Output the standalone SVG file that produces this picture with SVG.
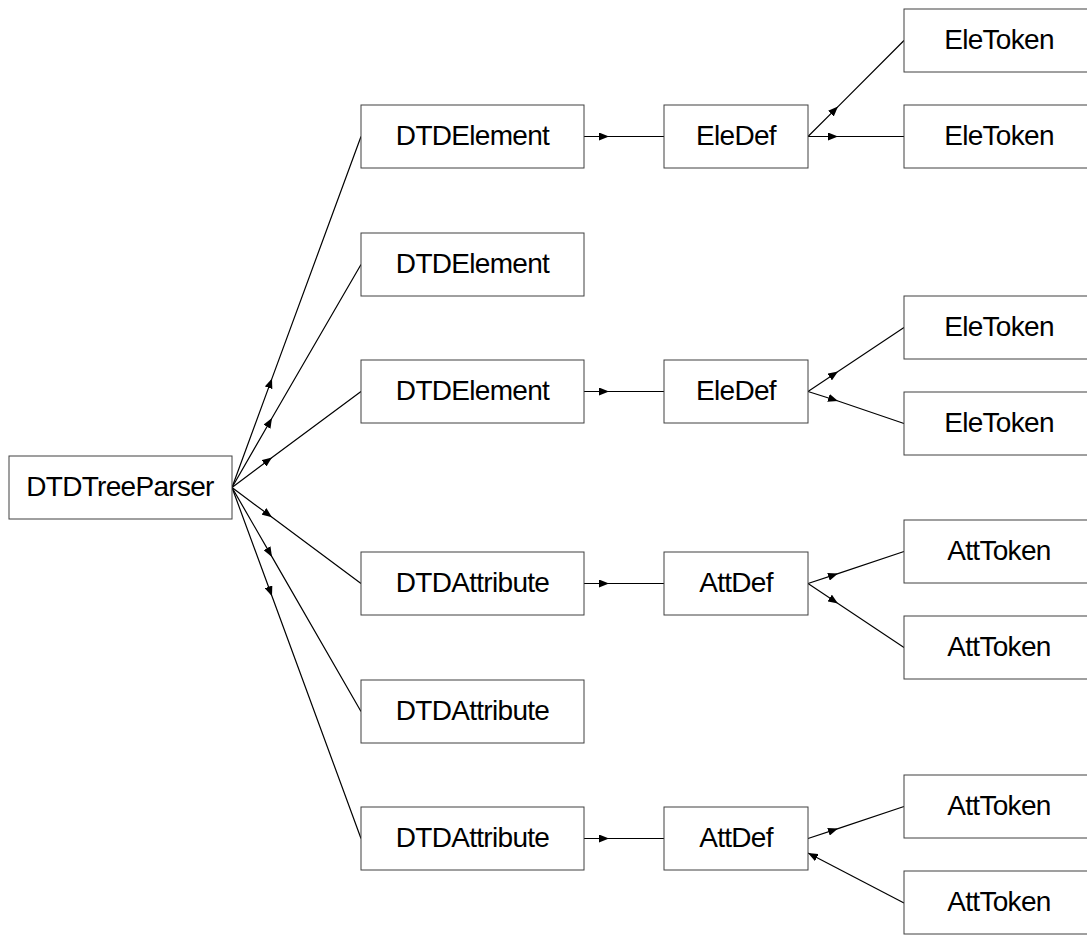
<svg xmlns="http://www.w3.org/2000/svg" width="1087" height="935" viewBox="0 0 1087 935">
  <style>
    .box rect { fill: #ffffff; stroke: #404040; stroke-width: 1; }
    .box text { font-family: "Liberation Sans", Arial, Helvetica, sans-serif; font-size: 28px; letter-spacing: -0.7px; fill: #000000; text-anchor: middle; }
    .edge { fill: none; stroke: #000000; stroke-width: 1.2; }
    .fwd { marker-mid: url(#arrow); }
    .back { marker-end: url(#arrow); }
  </style>
  <defs>
    <marker id="arrow" viewBox="0 0 10 8" refX="10" refY="4" markerWidth="10" markerHeight="8" markerUnits="userSpaceOnUse" orient="auto">
      <path d="M0,0 L10,4 L0,8 z" fill="#000000"/>
    </marker>
  </defs>
  <rect width="1087" height="935" fill="#ffffff"/>

  <!-- connectors: arrowhead placed about 31% along each line -->
  <g id="connectors">
    <path class="edge fwd" d="M232,487.5 L272,378.4 L361,136.5"/>
    <path class="edge fwd" d="M232,487.5 L272,418.0 L361,264.5"/>
    <path class="edge fwd" d="M232,487.5 L272,457.4 L361,391.5"/>
    <path class="edge fwd" d="M232,487.5 L272,517.3 L361,583.5"/>
    <path class="edge fwd" d="M232,487.5 L272,556.9 L361,711.5"/>
    <path class="edge fwd" d="M232,487.5 L272,596.2 L361,838.5"/>

    <path class="edge fwd" d="M584,136.5 L609,136.5 L664,136.5"/>
    <path class="edge fwd" d="M584,391.5 L609,391.5 L664,391.5"/>
    <path class="edge fwd" d="M584,583.5 L609,583.5 L664,583.5"/>
    <path class="edge fwd" d="M584,838.5 L609,838.5 L664,838.5"/>

    <path class="edge fwd" d="M808,136.5 L838,106.6 L904,40.5"/>
    <path class="edge fwd" d="M808,136.5 L838,136.5 L904,136.5"/>
    <path class="edge fwd" d="M808,391.5 L838,371.5 L904,327.5"/>
    <path class="edge fwd" d="M808,391.5 L838,401.0 L904,423.5"/>
    <path class="edge fwd" d="M808,583.5 L838,573.6 L904,551.5"/>
    <path class="edge fwd" d="M808,583.5 L838,603.5 L904,647.5"/>
    <path class="edge fwd" d="M808,838.5 L838,828.6 L904,806.5"/>
    <path class="edge back" d="M904,903 L808,853"/>
  </g>

  <g id="n-parser" class="box"><rect x="9" y="456" width="223" height="63"/><text x="120" y="496">DTDTreeParser</text></g>

  <g id="n-elem1" class="box"><rect x="361" y="105" width="223" height="63"/><text x="472.5" y="145">DTDElement</text></g>
  <g id="n-elem2" class="box"><rect x="361" y="233" width="223" height="63"/><text x="472.5" y="273">DTDElement</text></g>
  <g id="n-elem3" class="box"><rect x="361" y="360" width="223" height="63"/><text x="472.5" y="400">DTDElement</text></g>
  <g id="n-attr1" class="box"><rect x="361" y="552" width="223" height="63"/><text x="472.5" y="592">DTDAttribute</text></g>
  <g id="n-attr2" class="box"><rect x="361" y="680" width="223" height="63"/><text x="472.5" y="720">DTDAttribute</text></g>
  <g id="n-attr3" class="box"><rect x="361" y="807" width="223" height="63"/><text x="472.5" y="847">DTDAttribute</text></g>

  <g id="n-eledef1" class="box"><rect x="664" y="105" width="144" height="63"/><text x="736" y="145">EleDef</text></g>
  <g id="n-eledef2" class="box"><rect x="664" y="360" width="144" height="63"/><text x="736" y="400">EleDef</text></g>
  <g id="n-attdef1" class="box"><rect x="664" y="552" width="144" height="63"/><text x="736" y="592">AttDef</text></g>
  <g id="n-attdef2" class="box"><rect x="664" y="807" width="144" height="63"/><text x="736" y="847">AttDef</text></g>

  <g id="n-eletok1" class="box"><rect x="904" y="9" width="190" height="63"/><text x="999" y="49">EleToken</text></g>
  <g id="n-eletok2" class="box"><rect x="904" y="105" width="190" height="63"/><text x="999" y="145">EleToken</text></g>
  <g id="n-eletok3" class="box"><rect x="904" y="296" width="190" height="63"/><text x="999" y="336">EleToken</text></g>
  <g id="n-eletok4" class="box"><rect x="904" y="392" width="190" height="63"/><text x="999" y="432">EleToken</text></g>
  <g id="n-atttok1" class="box"><rect x="904" y="520" width="190" height="63"/><text x="999" y="560">AttToken</text></g>
  <g id="n-atttok2" class="box"><rect x="904" y="616" width="190" height="63"/><text x="999" y="656">AttToken</text></g>
  <g id="n-atttok3" class="box"><rect x="904" y="775" width="190" height="63"/><text x="999" y="815">AttToken</text></g>
  <g id="n-atttok4" class="box"><rect x="904" y="871" width="190" height="63"/><text x="999" y="911">AttToken</text></g>
</svg>
